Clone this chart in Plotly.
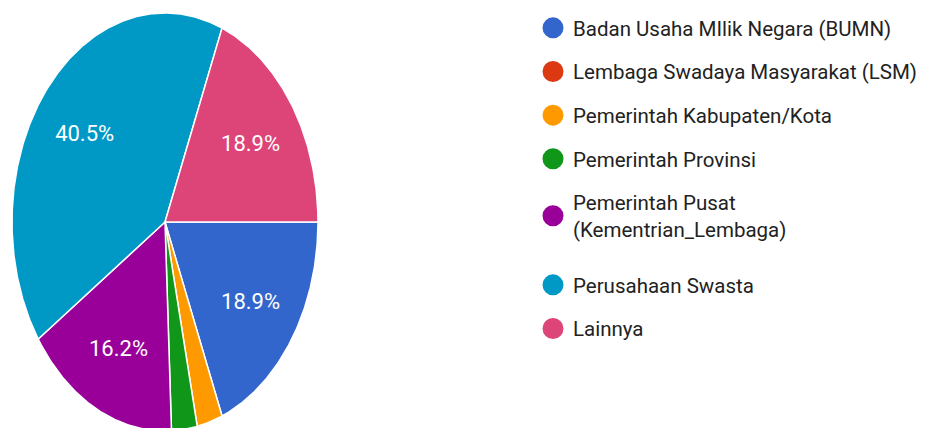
import numpy as np
import plotly.graph_objects as go

categories = [
    "Badan Usaha MIlik Negara (BUMN)",
    "Lembaga Swadaya Masyarakat (LSM)",
    "Pemerintah Kabupaten/Kota",
    "Pemerintah Provinsi",
    "Pemerintah Pusat<br>(Kementrian_Lembaga)",
    "Perusahaan Swasta",
    "Lainnya",
]
counts = [7, 0, 1, 1, 6, 15, 7]
colors = ["#3366cc", "#dc3912", "#ff9900", "#109618", "#990099", "#0099c6", "#dd4477"]

W, H = 925, 428
cx, cy, rx, ry = 157, 214, 153, 209
label_r = 0.675
label_dy = -2.5 / ry

total = sum(counts)
fig = go.Figure()

start = 0.0  # degrees, clockwise from 3 o'clock
lab_x, lab_y, lab_t = [], [], []
for cat, v, c in zip(categories, counts, colors):
    span = v / total * 360.0
    if v > 0:
        th = np.radians(np.linspace(start, start + span, max(int(span * 2), 2) + 1))
        xs = np.concatenate([[0], np.cos(th), [0]])
        ys = np.concatenate([[0], -np.sin(th), [0]])
        fig.add_trace(go.Scatter(
            x=xs, y=ys, mode="lines", fill="toself", fillcolor=c,
            line=dict(color="white", width=1.5), showlegend=False,
            hoverinfo="text", text=f"{cat}: {v}",
        ))
        share = v / total
        if share > 0.05:
            mid = np.radians(start + span / 2)
            lab_x.append(label_r * np.cos(mid))
            lab_y.append(-label_r * np.sin(mid) + label_dy)
            lab_t.append(f"{share * 100:.1f}%")
    start += span

fig.add_trace(go.Scatter(
    x=lab_x, y=lab_y, text=lab_t, mode="text",
    textfont=dict(family="Roboto", size=22, color="white"),
    showlegend=False, hoverinfo="skip",
))

for i, (cat, c) in enumerate(zip(categories, colors)):
    fig.add_trace(go.Scatter(
        x=[None], y=[None], mode="markers", name=cat,
        marker=dict(symbol="circle", size=16, color=c, line=dict(color=c, width=5)),
        legendgroup=f"g{i}",
        legend="legend" if i < 5 else "legend2",
    ))

legend_common = dict(
    font=dict(family="Roboto", size=20.5, color="#222222"),
    bgcolor="rgba(0,0,0,0)", borderwidth=0,
    xanchor="left", yanchor="top", tracegroupgap=14,
    itemclick=False, itemdoubleclick=False,
)

fig.update_layout(
    width=W, height=H,
    margin=dict(l=0, r=0, t=0, b=0),
    paper_bgcolor="white", plot_bgcolor="white",
    xaxis=dict(range=[-cx / rx, (W - cx) / rx], visible=False, fixedrange=True),
    yaxis=dict(range=[-(H - cy) / ry, cy / ry], visible=False, fixedrange=True),
    legend=dict(x=525 / W, y=1.0, **legend_common),
    legend2=dict(x=525 / W, y=1 - 257 / H, **legend_common),
    showlegend=True,
)

fig.write_html("out.html")
